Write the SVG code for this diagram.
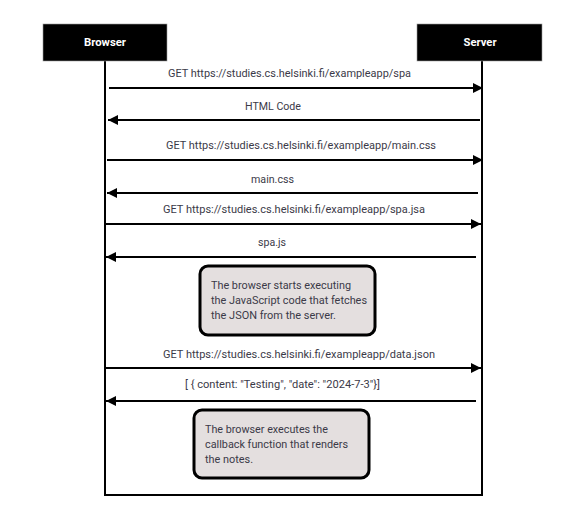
<svg xmlns="http://www.w3.org/2000/svg" width="571" height="514" viewBox="0 0 571 514">
  <style>
    .actor { fill: #000; stroke: #9a9a9a; stroke-width: 0.6; }
    .actor-label { font-family: Roboto, "Liberation Sans", sans-serif; font-weight: bold; font-size: 11px; fill: #fff; text-anchor: middle; }
    .frame { fill: none; stroke: #000; stroke-width: 2; }
    .msg { stroke: #000; stroke-width: 2; fill: none; marker-end: url(#arrow); }
    .msg-label { font-family: Roboto, "Liberation Sans", sans-serif; font-size: 11px; fill: #3b3a48; }
    .note { fill: #e4dfdf; stroke: #000; stroke-width: 3; }
    .note-text { font-family: Roboto, "Liberation Sans", sans-serif; font-size: 11px; fill: #3b3a48; }
  </style>
  <defs>
    <marker id="arrow" viewBox="0 0 10 10" refX="10" refY="5" markerWidth="5" markerHeight="5" markerUnits="strokeWidth" orient="auto">
      <path d="M0,0 L10,5 L0,10 Z" fill="#000"/>
    </marker>
  </defs>

  <!-- lifelines and closing frame -->
  <g id="frame">
    <path class="frame" d="M105,61 V495 H482 V61"/>
  </g>

  <g id="browser">
    <rect class="actor" x="43" y="24" width="124" height="37"/>
    <text class="actor-label" x="105" y="46" textLength="42" lengthAdjust="spacingAndGlyphs">Browser</text>
  </g>

  <g id="server">
    <rect class="actor" x="417" y="24" width="125" height="37"/>
    <text class="actor-label" x="480" y="46" textLength="33" lengthAdjust="spacingAndGlyphs">Server</text>
  </g>

  <g id="connectors">
    <line class="msg" x1="109" y1="88" x2="483" y2="88"/>
    <text class="msg-label" x="168" y="77" textLength="243" lengthAdjust="spacingAndGlyphs">GET https://studies.cs.helsinki.fi/exampleapp/spa</text>

    <line class="msg" x1="480" y1="120" x2="108" y2="120"/>
    <text class="msg-label" x="245" y="110" textLength="56" lengthAdjust="spacingAndGlyphs">HTML Code</text>

    <line class="msg" x1="107" y1="160" x2="483" y2="160"/>
    <text class="msg-label" x="166" y="149" textLength="270" lengthAdjust="spacingAndGlyphs">GET https://studies.cs.helsinki.fi/exampleapp/main.css</text>

    <line class="msg" x1="478" y1="193" x2="107" y2="193"/>
    <text class="msg-label" x="251" y="183" textLength="43" lengthAdjust="spacingAndGlyphs">main.css</text>

    <line class="msg" x1="105" y1="224" x2="481" y2="224"/>
    <text class="msg-label" x="163" y="213" textLength="262" lengthAdjust="spacingAndGlyphs">GET https://studies.cs.helsinki.fi/exampleapp/spa.jsa</text>

    <line class="msg" x1="476" y1="257" x2="106" y2="257"/>
    <text class="msg-label" x="258" y="246" textLength="28" lengthAdjust="spacingAndGlyphs">spa.js</text>

    <line class="msg" x1="105" y1="368" x2="481" y2="368"/>
    <text class="msg-label" x="163" y="358" textLength="272" lengthAdjust="spacingAndGlyphs">GET https://studies.cs.helsinki.fi/exampleapp/data.json</text>

    <line class="msg" x1="476" y1="401" x2="106" y2="401"/>
    <text class="msg-label" x="185" y="388" textLength="195" lengthAdjust="spacingAndGlyphs">[ { content: "Testing", "date": "2024-7-3"}]</text>
  </g>

  <g id="note-fetch">
    <rect class="note" x="200" y="266" width="175" height="69" rx="8"/>
    <text class="note-text" x="211" y="289" textLength="140" lengthAdjust="spacingAndGlyphs">The browser starts executing</text>
    <text class="note-text" x="211" y="304" textLength="156" lengthAdjust="spacingAndGlyphs">the JavaScript code that fetches</text>
    <text class="note-text" x="211" y="319" textLength="125" lengthAdjust="spacingAndGlyphs">the JSON from the server.</text>
  </g>

  <g id="note-render">
    <rect class="note" x="194" y="410" width="175" height="68" rx="8"/>
    <text class="note-text" x="205" y="433" textLength="123" lengthAdjust="spacingAndGlyphs">The browser executes the</text>
    <text class="note-text" x="205" y="448" textLength="143" lengthAdjust="spacingAndGlyphs">callback function that renders</text>
    <text class="note-text" x="205" y="463" textLength="48" lengthAdjust="spacingAndGlyphs">the notes.</text>
  </g>
</svg>
